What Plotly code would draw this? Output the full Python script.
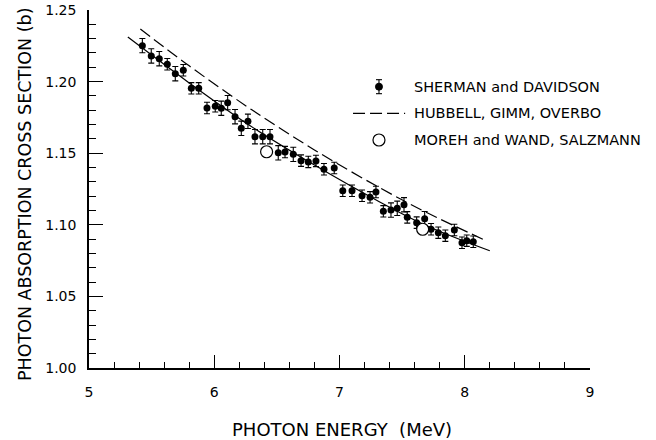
import plotly.graph_objects as go

# Sherman and Davidson measurements (MeV, barns)
sd_energy = [5.426, 5.497, 5.561, 5.625, 5.689, 5.753, 5.817, 5.876, 5.942, 6.008,
             6.056, 6.107, 6.166, 6.216, 6.269, 6.325, 6.387, 6.445, 6.511, 6.565,
             6.631, 6.693, 6.751, 6.812, 6.876, 6.958, 7.026, 7.100, 7.180, 7.244,
             7.291, 7.350, 7.411, 7.461, 7.515, 7.541, 7.616, 7.680, 7.731, 7.789,
             7.845, 7.917, 7.978, 8.016, 8.068]
sd_sigma = [1.2251, 1.2179, 1.2160, 1.2121, 1.2055, 1.2079, 1.1953, 1.1953, 1.1816, 1.1828,
            1.1814, 1.1853, 1.1755, 1.1674, 1.1723, 1.1615, 1.1615, 1.1615, 1.1503, 1.1508,
            1.1492, 1.1448, 1.1439, 1.1446, 1.1388, 1.1397, 1.1238, 1.1238, 1.1203, 1.1192,
            1.1229, 1.1094, 1.1103, 1.1115, 1.1140, 1.1052, 1.1015, 1.1043, 1.0969, 1.0945,
            1.0924, 1.0964, 1.0875, 1.0889, 1.0882]
sd_err = [0.005, 0.005, 0.005, 0.004, 0.005, 0.004, 0.004, 0.004, 0.004, 0.004,
          0.005, 0.005, 0.005, 0.005, 0.005, 0.005, 0.005, 0.005, 0.005, 0.004,
          0.005, 0.004, 0.004, 0.004, 0.004, 0.004, 0.004, 0.004, 0.004, 0.004,
          0.004, 0.004, 0.005, 0.005, 0.005, 0.004, 0.004, 0.005, 0.004, 0.004,
          0.004, 0.004, 0.004, 0.004, 0.004]

# Hubbell, Gimm, Overbo (dashed curve)
hgo_energy = [5.41, 5.80, 6.30, 6.80, 7.30, 7.70, 8.18]
hgo_sigma = [1.2367, 1.2110, 1.1803, 1.1523, 1.1269, 1.1084, 1.0885]

# Solid curve through measurements
fit_energy = [5.31, 5.80, 6.29, 6.80, 7.30, 7.70, 8.20]
fit_sigma = [1.2311, 1.1991, 1.1690, 1.1417, 1.1170, 1.0992, 1.0819]

# Moreh and Wand, Salzmann
mw_energy = [6.418, 7.664]
mw_sigma = [1.1510, 1.0969]

x_ticks = [5, 6, 7, 8, 9]
y_ticks = [1.00, 1.05, 1.10, 1.15, 1.20, 1.25]

legend_labels = ["SHERMAN and DAVIDSON", "HUBBELL, GIMM, OVERBO", "MOREH and WAND, SALZMANN"]

FONT = "DejaVu Sans"
DASH = "12px,5px"

fig = go.Figure()
fig.add_trace(go.Scatter(x=fit_energy, y=fit_sigma, mode="lines",
                         line=dict(color="black", width=1.2, shape="spline"),
                         showlegend=False, hoverinfo="skip"))
fig.add_trace(go.Scatter(x=hgo_energy, y=hgo_sigma, mode="lines",
                         line=dict(color="black", width=1.2, dash=DASH, shape="spline"),
                         showlegend=False))
fig.add_trace(go.Scatter(x=sd_energy, y=sd_sigma, mode="markers",
                         marker=dict(color="black", size=7),
                         error_y=dict(type="data", array=sd_err, color="black",
                                      thickness=1.1, width=3),
                         showlegend=False))
fig.add_trace(go.Scatter(x=mw_energy, y=mw_sigma, mode="markers",
                         marker=dict(color="white", size=12,
                                     line=dict(color="black", width=1.2)),
                         showlegend=False))

# legend drawn by hand
L_X = 0.5788
L_Y = [0.7858, 0.7115, 0.6369]
T_X = 0.6447
shapes = [
    dict(type="circle", xref="paper", yref="paper", xsizemode="pixel", ysizemode="pixel",
         xanchor=L_X, yanchor=L_Y[0], x0=-3.5, x1=3.5, y0=-3.5, y1=3.5,
         fillcolor="black", line=dict(color="black", width=1)),
    dict(type="line", xref="paper", yref="paper", xsizemode="pixel", ysizemode="pixel",
         xanchor=L_X, yanchor=L_Y[0], x0=0, x1=0, y0=-7, y1=7,
         line=dict(color="black", width=1.1)),
    dict(type="line", xref="paper", yref="paper", xsizemode="pixel", ysizemode="pixel",
         xanchor=L_X, yanchor=L_Y[0], x0=-3, x1=3, y0=7, y1=7,
         line=dict(color="black", width=1.1)),
    dict(type="line", xref="paper", yref="paper", xsizemode="pixel", ysizemode="pixel",
         xanchor=L_X, yanchor=L_Y[0], x0=-3, x1=3, y0=-7, y1=-7,
         line=dict(color="black", width=1.1)),
    dict(type="line", xref="paper", yref="paper", x0=0.527, x1=0.631, y0=L_Y[1], y1=L_Y[1],
         line=dict(color="black", width=1.2, dash=DASH)),
    dict(type="circle", xref="paper", yref="paper", xsizemode="pixel", ysizemode="pixel",
         xanchor=L_X, yanchor=L_Y[2], x0=-6, x1=6, y0=-6, y1=6,
         line=dict(color="black", width=1.2)),
]
annotations = [
    dict(text=lab, xref="paper", yref="paper", x=T_X, y=yy, xanchor="left", yanchor="middle",
         showarrow=False, font=dict(family=FONT, size=14.5, color="black"))
    for lab, yy in zip(legend_labels, L_Y)
]
annotations.append(dict(text="PHOTON ENERGY  (MeV)", xref="paper", yref="paper",
                        x=0.504, y=-0.1704, xanchor="center", yanchor="middle",
                        showarrow=False, font=dict(family=FONT, size=18, color="black")))
annotations.append(dict(text="PHOTON ABSORPTION CROSS SECTION (b)", xref="paper", yref="paper",
                        x=-0.1277, y=0.486, xanchor="center", yanchor="middle", textangle=-90,
                        showarrow=False, font=dict(family=FONT, size=17.5, color="black")))

fig.update_layout(
    template="none",
    width=656, height=440,
    margin=dict(l=89, r=66, t=10, b=72, pad=0),
    paper_bgcolor="white", plot_bgcolor="white",
    font=dict(family=FONT, color="black"),
    shapes=shapes, annotations=annotations,
    xaxis=dict(range=[5, 9], tickvals=x_ticks, ticktext=[str(v) for v in x_ticks],
               automargin=False,
               ticks="inside", ticklen=13, tickwidth=1.2, tickcolor="black",
               showline=True, linecolor="black", linewidth=1.5,
               showgrid=False, zeroline=False, ticklabelstandoff=10,
               tickfont=dict(family=FONT, size=14, color="black"),
               minor=dict(dtick=0.2, tick0=5, ticks="inside", ticklen=6, tickwidth=1.1,
                          tickcolor="black", showgrid=False)),
    yaxis=dict(range=[1.0, 1.25], tickvals=y_ticks, ticktext=[f"{v:.2f}" for v in y_ticks],
               automargin=False,
               ticks="inside", ticklen=14, tickwidth=1.2, tickcolor="black",
               showline=True, linecolor="black", linewidth=1.5,
               showgrid=False, zeroline=False, ticklabelstandoff=8,
               tickfont=dict(family=FONT, size=14, color="black"),
               minor=dict(dtick=0.01, tick0=1.0, ticks="inside", ticklen=7, tickwidth=1.1,
                          tickcolor="black", showgrid=False)),
)

fig.write_html("out.html")
